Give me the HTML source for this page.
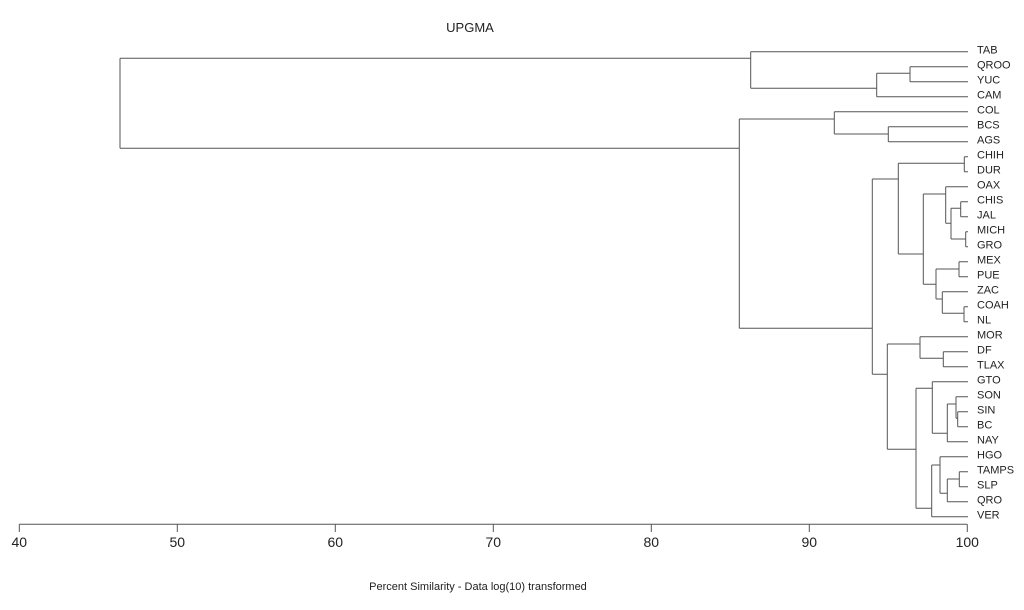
<!DOCTYPE html>
<html><head><meta charset="utf-8"><style>
html,body{margin:0;padding:0;background:#fff;}
svg{display:block;font-family:"Liberation Sans",Arial,sans-serif;}
</style></head><body>
<svg id="s" width="1024" height="610" viewBox="0 0 1024 610" xmlns="http://www.w3.org/2000/svg">
<rect width="1024" height="610" fill="#fff"/>
<text x="470" y="32" font-size="13" text-anchor="middle" fill="#222">UPGMA</text>
<g id="tree" stroke="#555" stroke-width="1" fill="none"></g>
<g id="labels" font-size="11" fill="#222"></g>
<g stroke="#555" stroke-width="1">
<line x1="19.3" y1="524.3" x2="967.3" y2="524.3"/>
<line x1="19.3" y1="524.3" x2="19.3" y2="532"/>
<line x1="177.3" y1="524.3" x2="177.3" y2="532"/>
<line x1="335.3" y1="524.3" x2="335.3" y2="532"/>
<line x1="493.3" y1="524.3" x2="493.3" y2="532"/>
<line x1="651.3" y1="524.3" x2="651.3" y2="532"/>
<line x1="809.3" y1="524.3" x2="809.3" y2="532"/>
<line x1="967.3" y1="524.3" x2="967.3" y2="532"/>
</g>
<g font-size="14" fill="#222" text-anchor="middle">
<text x="19.3" y="547">40</text><text x="177.3" y="547">50</text><text x="335.3" y="547">60</text>
<text x="493.3" y="547">70</text><text x="651.3" y="547">80</text><text x="809.3" y="547">90</text><text x="967.3" y="547">100</text>
</g>
<text x="478" y="590" font-size="11" text-anchor="middle" fill="#222">Percent Similarity - Data log(10) transformed</text>
</svg>
<script>
var names=["TAB","QROO","YUC","CAM","COL","BCS","AGS","CHIH","DUR","OAX","CHIS","JAL","MICH","GRO","MEX","PUE","ZAC","COAH","NL","MOR","DF","TLAX","GTO","SON","SIN","BC","NAY","HGO","TAMPS","SLP","QRO","VER"];
var LX=968;
function L(i){return {x:LX,y:51.7+15.0*i,name:names[i]};}
function N(x,y,a,b){return {x:x,y:y,a:a,b:b};}
var l=[];for(var i=0;i<32;i++)l.push(L(i));
var tab=N(750.7,58.3,l[0],N(876.7,88.3,N(910,73.3,l[1],l[2]),l[3]));
var col=N(834.3,119,l[4],N(888.3,134,l[5],l[6]));
var oax=N(945.7,194,l[9],N(951,223.3,N(960.7,208.3,l[10],l[11]),N(965.7,239,l[12],l[13])));
var mex=N(936,284.3,N(959,269,l[14],l[15]),N(942.3,299,l[16],N(964,313.3,l[17],l[18])));
var up=N(898.3,179,N(964.3,163.3,l[7],l[8]),N(923.3,254,oax,mex));
var mor=N(920,344,l[19],N(943.3,358.3,l[20],l[21]));
var gto=N(932.3,388.3,l[22],N(947.3,433.3,N(956,404,l[23],N(957.7,418.3,l[24],l[25])),l[26]));
var hgo=N(931.7,508.3,N(940,465,l[27],N(947.3,493.3,N(959.3,479,l[28],l[29]),l[30])),l[31]);
var low=N(887.3,374.3,mor,N(916,449.3,gto,hgo));
var big=N(872.3,328.3,up,low);
var rest=N(739.3,148.3,col,big);
var root=N(120,0,tab,rest);
var d="";
function draw(n){if(!n.a)return;
 d+="M"+n.x+" "+n.a.y+"V"+n.b.y+"M"+n.x+" "+n.a.y+"H"+n.a.x+"M"+n.x+" "+n.b.y+"H"+n.b.x;
 draw(n.a);draw(n.b);}
draw(root);
var ns="http://www.w3.org/2000/svg";
var p=document.createElementNS(ns,"path");p.setAttribute("d",d);document.getElementById("tree").appendChild(p);
var g=document.getElementById("labels");
l.forEach(function(o){var t=document.createElementNS(ns,"text");t.setAttribute("x",977);t.setAttribute("y",o.y+2);t.textContent=o.name;g.appendChild(t);});
</script>
</body></html>
